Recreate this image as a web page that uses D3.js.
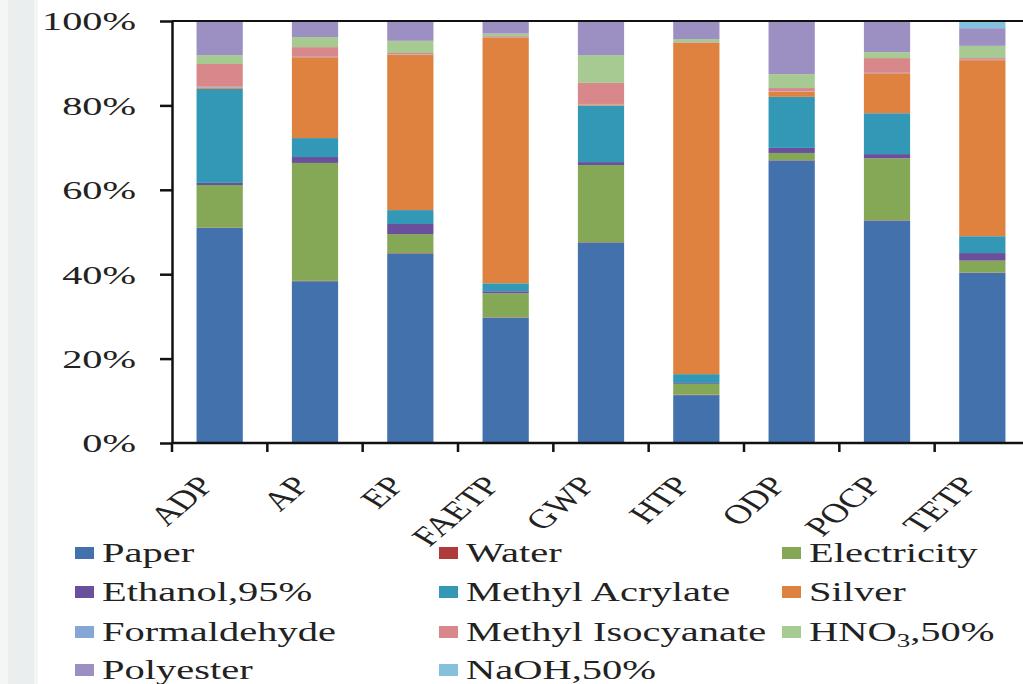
<!DOCTYPE html>
<html>
<head>
<meta charset="utf-8">
<script src="https://cdn.jsdelivr.net/npm/d3@7"></script>
<style>
  body { margin: 0; background: #fff; }
  text { font-family: "Liberation Serif", "Times New Roman", serif; fill: #222; }
</style>
</head>
<body>
<svg id="chart" width="1023" height="684"></svg>
<script>
// impact categories (x axis)
const categories = ["ADP", "AP", "EP", "FAETP", "GWP", "HTP", "ODP", "POCP", "TETP"];

// inputs, in stacking order from the bottom
const inputs = ["Paper", "Water", "Electricity", "Ethanol,95%", "Methyl Acrylate", "Silver",
  "Formaldehyde", "Methyl Isocyanate", "HNO3,50%", "Polyester", "NaOH,50%"];

// share (%) of each input per category
const paper       = [51.0, 38.4, 45.0, 29.8, 47.6, 11.4, 67.0, 52.8, 40.4];
const water       = [0.1, 0.1, 0.1, 0.1, 0.1, 0.1, 0.1, 0.1, 0.1];
const electricity = [10.1, 28.0, 4.5, 5.7, 18.3, 2.6, 1.7, 14.7, 2.8];
const ethanol     = [0.5, 1.4, 2.4, 0.5, 0.7, 0.2, 1.2, 1.0, 1.8];
const methylAcr   = [22.3, 4.5, 3.3, 1.9, 13.4, 2.1, 12.1, 9.7, 4.0];
const silver      = [0.3, 19.2, 36.9, 58.5, 0.3, 78.9, 1.2, 9.5, 41.8];
const formaldeh   = [0.2, 0.1, 0.1, 0.1, 0.1, 0.1, 0.1, 0.1, 0.1];
const methylIso   = [5.4, 2.3, 0.3, 0.2, 5.0, 0.1, 0.8, 3.5, 0.4];
const hno3        = [2.1, 2.4, 2.9, 0.6, 6.6, 0.7, 3.3, 1.4, 2.9];
const polyester   = [8.1, 3.8, 4.7, 3.0, 8.1, 4.3, 12.6, 7.4, 4.2];
const naoh        = [0.0, 0.0, 0.0, 0.0, 0.0, 0.0, 0.0, 0.0, 1.7];

const series = [paper, water, electricity, ethanol, methylAcr, silver,
  formaldeh, methylIso, hno3, polyester, naoh];

const colors = ["#4271ac", "#b03b3b", "#85a857", "#6a4f9c", "#3398b6", "#e0823f",
  "#86a6d6", "#d8888b", "#a7ca93", "#9c8fc2", "#85c0dc"];

// build rows for d3.stack
const rows = categories.map((c, i) => {
  const row = { category: c };
  inputs.forEach((k, j) => { row[k] = series[j][i]; });
  return row;
});

const stacked = d3.stack()
  .keys(inputs)
  .offset(d3.stackOffsetExpand)(rows);

// chart parameters
const axisX = 172,
  plotTop = 21,
  plotBottom = 443,
  plotRight = 1030,
  stretch = 1.5;   // the picture is wider than tall: text is stretched

const svg = d3.select("#chart");

// light strip on the left edge
svg.append("rect").attr("x", 0).attr("y", 0).attr("width", 38).attr("height", 684)
  .attr("fill", "#f4f6f6");
svg.append("rect").attr("x", 8).attr("y", 0).attr("width", 26).attr("height", 684)
  .attr("fill", "#ebeeee");

const xScale = d3.scaleBand()
  .domain(categories)
  .range([axisX, plotRight])
  .paddingInner(0.515)
  .paddingOuter(0.2575);

const yScale = d3.scaleLinear()
  .domain([0, 1])
  .range([plotBottom, plotTop]);

const color = d3.scaleOrdinal().domain(inputs).range(colors);

// bars
svg.append("g")
  .selectAll("g")
  .data(stacked)
  .enter()
  .append("g")
  .attr("fill", d => color(d.key))
  .selectAll("rect")
  .data(d => d)
  .enter()
  .append("rect")
  .attr("x", d => xScale(d.data.category))
  .attr("y", d => yScale(d[1]))
  .attr("width", xScale.bandwidth())
  .attr("height", d => yScale(d[0]) - yScale(d[1]));

// top frame line
svg.append("line")
  .attr("x1", axisX).attr("x2", 1023)
  .attr("y1", yScale(1)).attr("y2", yScale(1))
  .attr("stroke", "#111").attr("stroke-width", 2);

// y axis
const yAxis = svg.append("g")
  .attr("transform", "translate(" + axisX + ",0)")
  .call(d3.axisLeft(yScale).ticks(5).tickFormat(d3.format(".0%")).tickSize(12).tickSizeOuter(0));
yAxis.select(".domain").attr("stroke", "#111").attr("stroke-width", 2.5);
yAxis.selectAll(".tick line").attr("stroke", "#111").attr("stroke-width", 2.5);
yAxis.selectAll(".tick text")
  .attr("x", -36 / 1.55)
  .attr("dy", "0.34em")
  .attr("transform", "scale(1.55,1)")
  .style("font-size", "26px")
  .style("font-family", "Liberation Serif")
  .attr("fill", "#222");

// x axis line and ticks on the category boundaries
const step = xScale.step();
const boundaries = categories.map(c => xScale(c) + xScale.bandwidth() / 2 - step / 2)
  .concat([xScale(categories[categories.length - 1]) + xScale.bandwidth() / 2 + step / 2]);

svg.append("line")
  .attr("x1", axisX).attr("x2", 1023)
  .attr("y1", plotBottom).attr("y2", plotBottom)
  .attr("stroke", "#111").attr("stroke-width", 2.5);

svg.append("g")
  .selectAll("line")
  .data(boundaries)
  .enter()
  .append("line")
  .attr("x1", d => d).attr("x2", d => d)
  .attr("y1", plotBottom).attr("y2", plotBottom + 9)
  .attr("stroke", "#111").attr("stroke-width", 2.5);

// rotated category labels
svg.append("g")
  .selectAll("text")
  .data(categories)
  .enter()
  .append("text")
  .attr("transform", d => "translate(" + (xScale(d) + xScale.bandwidth() / 2 - 4) + "," + 486 + ") scale(1.4,1) rotate(-50)")
  .attr("text-anchor", "end")
  .style("font-size", "27px")
  .text(d => d);

// legend: 3 columns, 4 rows
const legendCols = [75, 439, 782],
  legendRows = [553, 592, 632, 670];

const legend = svg.append("g")
  .selectAll("g")
  .data(inputs)
  .enter()
  .append("g")
  .attr("transform", (d, i) => "translate(" + legendCols[i % 3] + "," + legendRows[Math.floor(i / 3)] + ")");

legend.append("rect")
  .attr("x", 0).attr("y", -6)
  .attr("width", 19).attr("height", 12)
  .attr("fill", d => color(d));

const legendText = legend.append("text")
  .attr("transform", "translate(27,9) scale(" + stretch + ",1)")
  .style("font-size", "27px");

legendText.each(function(d) {
  const t = d3.select(this);
  if (d === "HNO3,50%") {
    t.append("tspan").text("HNO");
    t.append("tspan").attr("dy", 6).style("font-size", "18px").text("3");
    t.append("tspan").attr("dy", -6).text(",50%");
  } else {
    t.text(d);
  }
});
</script>
</body>
</html>
